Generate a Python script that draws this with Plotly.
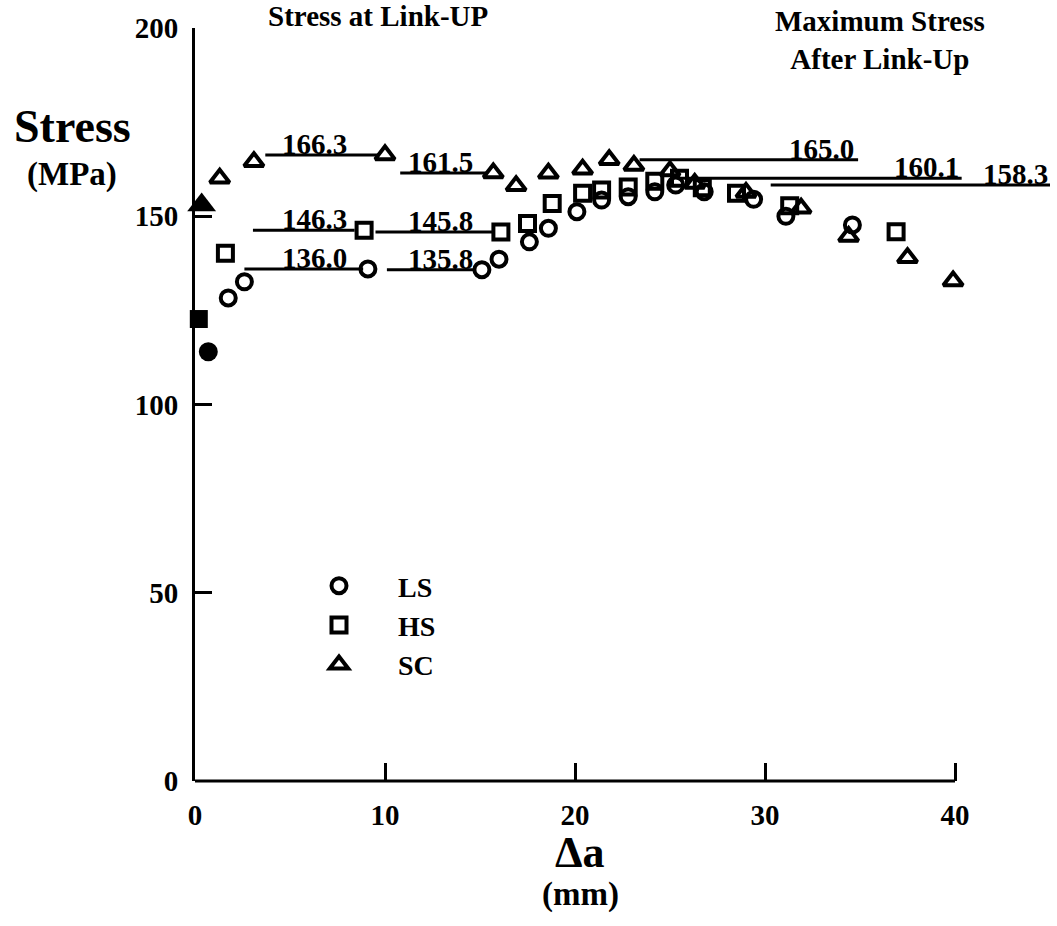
import plotly.graph_objects as go

# ---- data: crack extension Δa (mm) vs. remote stress (MPa) ----
ls_da = [1.75, 2.6, 9.1, 15.1, 16.0, 17.6, 18.6, 20.1, 21.4, 22.8, 24.2, 25.3, 26.8, 29.4, 31.1, 34.6]
ls_stress = [128.3, 132.6, 136.0, 135.8, 138.6, 143.2, 146.8, 151.2, 154.3, 155.2, 156.5, 158.3, 156.5, 154.5, 150.0, 147.7]

hs_da = [1.6, 8.9, 16.1, 17.5, 18.8, 20.4, 21.4, 22.8, 24.2, 25.5, 26.7, 28.5, 31.3, 36.9]
hs_stress = [140.2, 146.3, 145.8, 148.1, 153.4, 156.1, 157.0, 157.8, 159.3, 160.1, 157.6, 156.1, 152.8, 145.9]

sc_da = [1.3, 3.1, 10.0, 15.7, 16.9, 18.6, 20.4, 21.8, 23.1, 25.0, 26.3, 29.0, 31.9, 34.4, 37.5, 39.9]
sc_stress = [160.1, 164.5, 166.3, 161.5, 158.1, 161.4, 162.5, 165.0, 163.5, 162.0, 158.7, 156.3, 152.1, 144.6, 139.0, 132.8]

# first link-up at Δa ≈ 0 (solid symbols)
ls_first_da, ls_first_stress = [0.7], [114.0]
hs_first_da, hs_first_stress = [0.2], [122.7]
sc_first_da, sc_first_stress = [0.35], [153.0]

# points at which link-up occurred (indices into the series above)
ls_linkup = [2, 3]
hs_linkup = [1, 2]
sc_linkup = [2, 3]

# horizontal extent of the link-up reference lines (mm)
ls_linkup_span = [(2.6, 8.85), (10.1, 14.7)]
hs_linkup_span = [(3.05, 8.4), (9.5, 15.7)]
sc_linkup_span = [(3.7, 9.7), (10.8, 15.35)]
linkup_label_x = [6.3, 12.9]

# maximum stress after the last link-up: line extent and label end (mm)
ls_max_span, ls_max_label_x = (30.3, 45.0), 45.0
hs_max_span, hs_max_label_x = (25.5, 40.35), 40.3
sc_max_span, sc_max_label_x = (23.4, 34.9), 34.8

x_ticks = [0, 10, 20, 30, 40]
y_ticks = [0, 50, 100, 150, 200]

FONT = "Liberation Serif"
BLACK = "black"

fig = go.Figure()

series = [
    ("LS", "circle", ls_da, ls_stress, ls_first_da, ls_first_stress, 15, 19),
    ("HS", "square", hs_da, hs_stress, hs_first_da, hs_first_stress, 15, 18),
    ("SC", "triangle-up", sc_da, sc_stress, sc_first_da, sc_first_stress, 17, 25),
]

for name, sym, da, st, fda, fst, size, fsize in series:
    fig.add_trace(go.Scatter(
        x=da, y=st, mode="markers", name=name,
        marker=dict(symbol=sym + "-open", size=size, color=BLACK,
                    line=dict(width=4, color=BLACK)),
        cliponaxis=False,
    ))
for name, sym, da, st, fda, fst, size, fsize in series:
    fig.add_trace(go.Scatter(
        x=fda, y=fst, mode="markers", showlegend=False, name=name + " first link-up",
        marker=dict(symbol=sym, size=fsize, color=BLACK, line=dict(width=0)),
        cliponaxis=False,
    ))

annotations = []


def value_label(x, y, text, anchor="center"):
    annotations.append(dict(
        x=x, y=y, xref="x", yref="y", text=text, showarrow=False,
        xanchor=anchor, yanchor="bottom", yshift=-7,
        font=dict(family=FONT, size=29, color=BLACK, weight="bold"),
    ))


# stress-at-link-up reference lines
for stress, idx, spans in [(ls_stress, ls_linkup, ls_linkup_span),
                           (hs_stress, hs_linkup, hs_linkup_span),
                           (sc_stress, sc_linkup, sc_linkup_span)]:
    lx, ly = [], []
    for i, (x0, x1), labx in zip(idx, spans, linkup_label_x):
        v = stress[i]
        lx += [x0, x1, None]
        ly += [v, v, None]
        value_label(labx, v, f"{v:.1f}")
    fig.add_trace(go.Scatter(x=lx, y=ly, mode="lines", showlegend=False,
                             line=dict(color=BLACK, width=3), hoverinfo="skip"))

# maximum stress after link-up
for stress, first_after, span, labx in [(ls_stress, ls_linkup[-1] + 1, ls_max_span, ls_max_label_x),
                                        (hs_stress, hs_linkup[-1] + 1, hs_max_span, hs_max_label_x),
                                        (sc_stress, sc_linkup[-1] + 1, sc_max_span, sc_max_label_x)]:
    v = max(stress[first_after:])
    fig.add_trace(go.Scatter(x=list(span), y=[v, v], mode="lines", showlegend=False,
                             line=dict(color=BLACK, width=3), hoverinfo="skip"))
    value_label(labx, v, f"{v:.1f}", anchor="right")

# plot-area geometry in pixels (for paper-positioned text)
L, R, T, B = 195, 1050, 28, 781


def px(xp):
    return (xp - L) / (R - L)


def py(yp):
    return (B - yp) / (B - T)


def text(xp, yp, s, size):
    annotations.append(dict(
        x=px(xp), y=py(yp), xref="paper", yref="paper", text=s, showarrow=False,
        xanchor="center", yanchor="middle",
        font=dict(family=FONT, size=size, color=BLACK, weight="bold"),
    ))


text(378, 16, "Stress at Link-UP", 29)
text(880, 40, "Maximum Stress<br>After Link-Up", 29)
text(72, 126, "Stress", 46)
text(72, 174, "(MPa)", 33)
text(580, 853, "Δa", 44)
text(580, 894, "(mm)", 33)

fig.update_layout(
    width=1057, height=926,
    margin=dict(l=L, r=1057 - R, t=T, b=926 - B),
    paper_bgcolor="white", plot_bgcolor="white",
    font=dict(family=FONT, color=BLACK),
    annotations=annotations,
    showlegend=True,
    legend=dict(
        x=px(280), y=py(561), xanchor="left", yanchor="top",
        font=dict(family=FONT, size=28, color=BLACK, weight="bold"),
        itemwidth=108, bgcolor="rgba(0,0,0,0)",
    ),
    shapes=[dict(type="line", xref="paper", yref="paper",
                 x0=0, x1=40 / 45, y0=0, y1=0,
                 line=dict(color=BLACK, width=3))],
)

fig.update_xaxes(
    range=[0, 45], showline=False, showgrid=False, zeroline=False,
    tickmode="array", tickvals=x_ticks, ticktext=[str(t) for t in x_ticks],
    ticks="inside", ticklen=18, tickwidth=3, tickcolor=BLACK,
    ticklabelstandoff=14,
    tickfont=dict(family=FONT, size=29, color=BLACK, weight="bold"),
)
fig.update_yaxes(
    range=[0, 200], showline=True, linewidth=3, linecolor=BLACK,
    showgrid=False, zeroline=False,
    tickmode="array", tickvals=y_ticks, ticktext=[str(t) for t in y_ticks],
    ticks="inside", ticklen=17, tickwidth=3, tickcolor=BLACK,
    ticklabelstandoff=8,
    tickfont=dict(family=FONT, size=29, color=BLACK, weight="bold"),
)

fig.write_html("out.html")
